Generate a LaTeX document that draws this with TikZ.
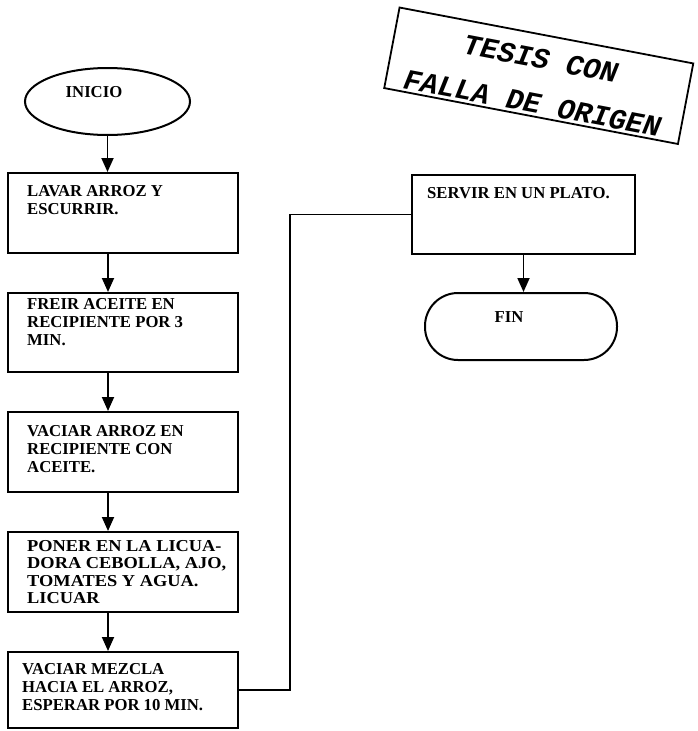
\documentclass[tikz,border=0pt]{standalone}
\usepackage{fontspec}
\setmainfont{Liberation Serif}
\newfontfamily\stampfont{Liberation Mono}
\usetikzlibrary{arrows.meta,shapes.geometric}
\newcommand{\boxfont}{\bfseries\fontsize{16.7}{18}\selectfont}
\newcommand{\widefont}{\bfseries\addfontfeatures{FakeStretch=1.1}\fontsize{16.7}{17.5}\selectfont}
\tikzset{
  stepbox/.style={draw, line width=2pt, minimum width=230pt, inner sep=0pt},
  arr/.style={line width=1.8pt, -{Triangle[width=12pt,length=14pt]}},
  conn/.style={line width=1.5pt},
  lbl/.style={anchor=north west, inner sep=0pt, align=left, font=\boxfont},
  term/.style={draw, line width=2pt, inner sep=0pt},
  stamptxt/.style={inner sep=0pt, rotate=-10.78, align=center, font=\stampfont\bfseries\itshape\fontsize{29}{45}\selectfont},
}
\begin{document}
\begin{tikzpicture}[x=1pt,y=-1pt]
\useasboundingbox (0,0) rectangle (698,731);
% stamp
\node[draw, line width=1.8pt, rotate=-10.78, minimum width=299pt, minimum height=82pt, inner sep=0pt] (stamp) at (538.75,75.75) {};
\node[stamptxt] (st) at (536.5,81) {TESIS CON\\FALLA DE ORIGEN};
% start
\node[term, ellipse, minimum width=165pt, minimum height=67pt] (ini) at (107.5,101.5) {};
\node[inner sep=0pt, font=\boxfont] (tini) at (94,92.5) {INICIO};
% boxes
\node[stepbox, minimum height=80pt] (b1) at (123,213) {};
\node[stepbox, minimum height=79pt] (b2) at (123,332.5) {};
\node[stepbox, minimum height=80pt] (b3) at (123,452) {};
\node[stepbox, minimum height=80pt] (b4) at (123,572) {};
\node[stepbox, minimum height=76pt] (b5) at (123,690) {};
\node[lbl] (t1) at (27,185) {LAVAR ARROZ Y\\ESCURRIR.};
\node[lbl] (t2) at (27,298) {FREIR ACEITE EN\\RECIPIENTE POR 3\\MIN.};
\node[lbl] (t3) at (27,425) {VACIAR ARROZ EN\\RECIPIENTE CON\\ACEITE.};
\node[lbl, font=\widefont] (t4) at (27,540) {PONER EN LA LICUA-\\DORA CEBOLLA, AJO,\\TOMATES Y AGUA.\\LICUAR};
\node[lbl] (t5) at (22,663) {VACIAR MEZCLA\\HACIA EL ARROZ,\\ESPERAR POR 10 MIN.};
% right column
\node[stepbox, minimum width=223pt, minimum height=79pt] (sv) at (523.5,214.5) {};
\node[lbl] (tsv) at (427,187) {SERVIR EN UN PLATO.};
\node[term, rounded corners=33pt, minimum width=192pt, minimum height=67pt] (fin) at (521,326.5) {};
\node[inner sep=0pt, font=\boxfont] (tfin) at (509,317.5) {FIN};
% connectors
\draw[arr] (ini.south) -- (ini.south |- b1.north);
\draw[arr] ([xshift=-15pt]b1.south) -- ([xshift=-15pt]b2.north);
\draw[arr] ([xshift=-15pt]b2.south) -- ([xshift=-15pt]b3.north);
\draw[arr] ([xshift=-15pt]b3.south) -- ([xshift=-15pt]b4.north);
\draw[arr] ([xshift=-15pt]b4.south) -- ([xshift=-15pt]b5.north);
\coordinate (jog) at (290,0);
\draw[conn] (b5.east) -| (jog |- sv.west) -- (sv.west);
\draw[arr] (sv.south) -- (sv.south |- fin.north);
\end{tikzpicture}
\end{document}
